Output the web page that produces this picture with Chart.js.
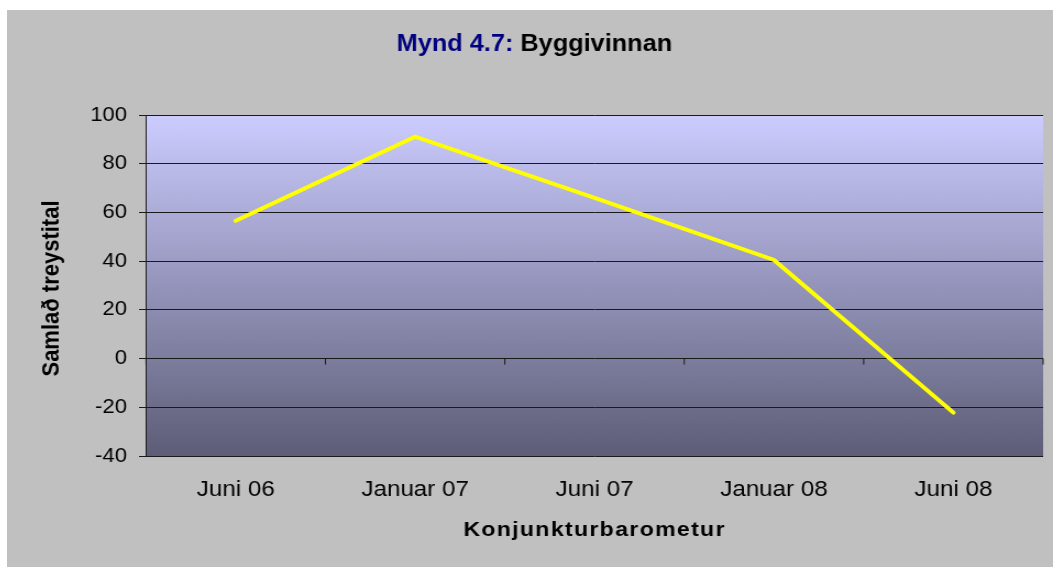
<!DOCTYPE html>
<html>
<head>
<meta charset="utf-8">
<script src="https://cdn.jsdelivr.net/npm/chart.js@4"></script>
<style>
  body { margin: 0; background: #ffffff; }
  #box { position: absolute; left: 7px; top: 10px; width: 1046px; height: 557px; background: #c0c0c0; }
  #myChart { width: 1046px; height: 557px; }
</style>
</head>
<body>
<div id="box"><canvas id="myChart" width="951" height="557" style="width:1046px;height:557px"></canvas></div>
<script>
const categories = ['Juni 06', 'Januar 07', 'Juni 07', 'Januar 08', 'Juni 08'];
const treystital = [56.6, 91.1, 66, 40.5, -22.2];
const yMin = -40, yMax = 100, yStep = 20;

// Excel-ish plot area gradient
const plotBackground = {
    id: 'plotBackground',
    beforeDraw(chart) {
        const {ctx, chartArea: a} = chart;
        const g = ctx.createLinearGradient(0, a.top, 0, a.bottom);
        g.addColorStop(0, '#ccccff');
        g.addColorStop(1, '#5d5d77');
        ctx.save();
        ctx.fillStyle = g;
        ctx.fillRect(a.left, a.top, a.right - a.left, a.bottom - a.top);
        ctx.restore();
    }
};

// category tick marks sit on the zero line
const zeroTicks = {
    id: 'zeroTicks',
    beforeDatasetsDraw(chart) {
        const {ctx, scales: {x, y}} = chart;
        const y0 = y.getPixelForValue(0);
        const half = (x.getPixelForValue(1) - x.getPixelForValue(0)) / 2;
        ctx.save();
        ctx.strokeStyle = '#1a1a1a';
        ctx.lineWidth = 1;
        ctx.beginPath();
        for (let i = 0; i <= categories.length; i++) {
            const px = x.getPixelForValue(i) - half;
            ctx.moveTo(px, y0);
            ctx.lineTo(px, y0 + 6);
        }
        ctx.stroke();
        ctx.restore();
    }
};

const titles = {
    id: 'titles',
    afterDraw(chart) {
        const {ctx, chartArea: a, width} = chart;
        ctx.save();
        ctx.textBaseline = 'middle';
        // chart title, two colours
        ctx.font = 'bold 23px Arial, "Liberation Sans", sans-serif';
        const p1 = 'Mynd 4.7: ', p2 = 'Byggivinnan';
        const w1 = ctx.measureText(p1).width, w2 = ctx.measureText(p2).width;
        let tx = width / 2 + 4 - (w1 + w2) / 2;
        ctx.textAlign = 'left';
        ctx.fillStyle = '#000080';
        ctx.fillText(p1, tx, 35);
        ctx.fillStyle = '#000000';
        ctx.fillText(p2, tx + w1, 35);
        // x axis title
        ctx.font = 'bold 21px Arial, "Liberation Sans", sans-serif';
        ctx.textAlign = 'center';
        ctx.letterSpacing = '1.2px';
        ctx.fillText('Konjunkturbarometur', (a.left + a.right) / 2, 520);
        ctx.letterSpacing = '0px';
        // y axis title
        ctx.font = 'bold 22px Arial, "Liberation Sans", sans-serif';
        ctx.translate(41, (a.top + a.bottom) / 2 + 3);
        ctx.rotate(-Math.PI / 2);
        ctx.fillText('Samlað treystital', 0, 0);
        ctx.restore();
    }
};

Chart.defaults.font.family = 'Arial, "Liberation Sans", sans-serif';
Chart.defaults.color = '#000000';

const ctx = document.getElementById('myChart').getContext('2d');
const myChart = new Chart(ctx, {
    type: 'line',
    data: {
        labels: categories,
        datasets: [{
            label: 'Samlað treystital',
            data: treystital,
            borderColor: '#ffff00',
            borderWidth: 4,
            borderCapStyle: 'round',
            pointRadius: 0,
            tension: 0
        }]
    },
    plugins: [plotBackground, zeroTicks, titles],
    options: {
        responsive: false,
        devicePixelRatio: 1,
        animation: false,
        layout: {
            padding: { top: 105, right: 9, left: 0, bottom: 0 }
        },
        plugins: {
            legend: { display: false },
            tooltip: { enabled: false }
        },
        scales: {
            x: {
                offset: true,
                afterFit(scale) { scale.height = 111; },
                grid: { display: false },
                border: { display: false },
                ticks: { font: { size: 22 }, padding: 13, maxRotation: 0 }
            },
            y: {
                min: yMin,
                max: yMax,
                afterFit(scale) { scale.width = 126.4; },
                grid: { color: '#1a1a1a', lineWidth: 1, tickLength: 6.4 },
                border: { color: '#1a1a1a', width: 1 },
                ticks: { stepSize: yStep, font: { size: 20 }, padding: 11 }
            }
        }
    }
});
</script>
</body>
</html>
